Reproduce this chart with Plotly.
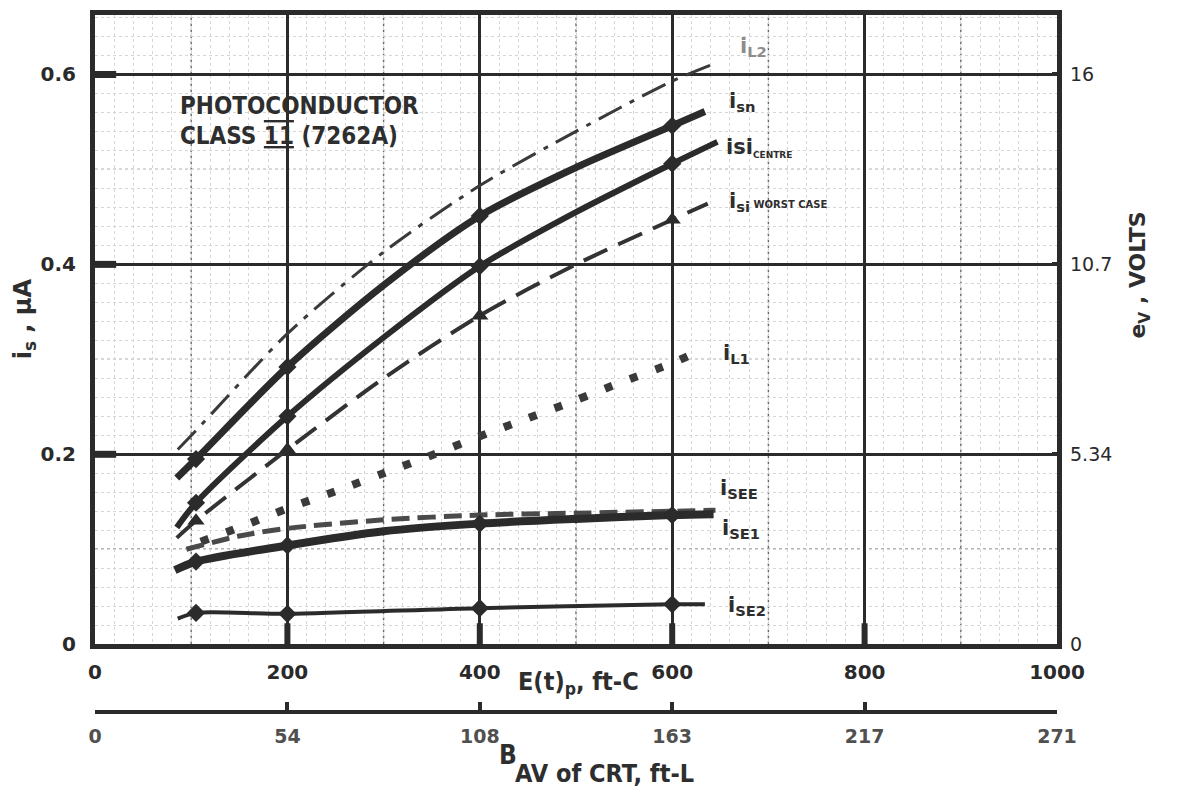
import plotly.graph_objects as go

# ---- data: photoconductor currents vs. illumination E(t)p (ft-C) ----
X_L2 = [86, 105, 200, 300, 400, 500, 600, 648]
Y_L2 = [0.205, 0.225, 0.327, 0.413, 0.483, 0.540, 0.593, 0.613]

X_SN = [85, 105, 200, 300, 400, 500, 600, 634]
Y_SN = [0.175, 0.195, 0.292, 0.378, 0.451, 0.502, 0.546, 0.561]

X_SIC = [85, 105, 200, 300, 400, 500, 600, 647]
Y_SIC = [0.123, 0.149, 0.240, 0.323, 0.398, 0.455, 0.506, 0.529]

X_SIW = [85, 105, 200, 300, 400, 500, 600, 637]
Y_SIW = [0.112, 0.130, 0.205, 0.280, 0.346, 0.400, 0.447, 0.464]

X_L1 = [110, 150, 200, 250, 300, 350, 400, 450, 500, 550, 600, 630]
Y_L1 = [0.108, 0.123, 0.143, 0.161, 0.180, 0.199, 0.219, 0.238, 0.257, 0.277, 0.296, 0.310]

X_SEE = [95, 150, 200, 300, 400, 500, 600, 645]
Y_SEE = [0.100, 0.114, 0.122, 0.131, 0.136, 0.138, 0.140, 0.141]

X_SE1 = [83, 105, 200, 300, 400, 500, 600, 643]
Y_SE1 = [0.078, 0.087, 0.104, 0.119, 0.127, 0.132, 0.136, 0.137]

X_SE2 = [86, 105, 200, 400, 600, 634]
Y_SE2 = [0.027, 0.033, 0.032, 0.038, 0.042, 0.042]

# measured points marked on the curves
MARK_X = [105, 200, 400, 600]

# axis ticks
E_TICKS = [0, 200, 400, 600, 800, 1000]
B_TICKTEXT = ["0", "54", "108", "163", "217", "271"]
I_TICKS = [0, 0.2, 0.4, 0.6]
I_TICKTEXT = ["0", "0.2", "0.4", "0.6"]
V_TICKTEXT = ["0", "5.34", "10.7", "16"]

Y_TOP = 0.6626
INK = "#2b2b2b"
NARROW = "DejaVu Sans Condensed, Liberation Sans Narrow, Arial Narrow, sans-serif"
NUMF = "DejaVu Sans, Arial, sans-serif"


def marks(xs, ys):
    mx = [x for x in xs if x in MARK_X]
    my = [ys[xs.index(x)] for x in mx]
    return mx, my


fig = go.Figure()

curves = [
    (X_L2, Y_L2, dict(color="#3a3a3a", width=3, dash="26px,9px,5px,9px"), None),
    (X_SN, Y_SN, dict(color=INK, width=7), "diamond"),
    (X_SIC, Y_SIC, dict(color=INK, width=6), "diamond"),
    (X_SIW, Y_SIW, dict(color="#333333", width=4, dash="26px,12px"), "triangle-up"),
    (X_L1, Y_L1, dict(color="#3a3a3a", width=8, dash="8px,19px"), None),
    (X_SEE, Y_SEE, dict(color="#4a4a4a", width=5, dash="18px,8px"), None),
    (X_SE1, Y_SE1, dict(color=INK, width=8), "diamond"),
    (X_SE2, Y_SE2, dict(color=INK, width=4), "diamond"),
]

for xs, ys, line, sym in curves:
    fig.add_trace(go.Scatter(x=xs, y=ys, mode="lines", line=dict(shape="spline", smoothing=0.8, **line),
                             hoverinfo="skip", showlegend=False))
    if sym:
        mx, my = marks(xs, ys)
        fig.add_trace(go.Scatter(x=mx, y=my, mode="markers",
                                 marker=dict(symbol=sym, size=15 if sym == "triangle-up" else 14, color=INK),
                                 hoverinfo="skip", showlegend=False))

# carriers for the secondary scales
fig.add_trace(go.Scatter(x=[0, 1000], y=[0, 0], xaxis="x2", yaxis="y", mode="lines",
                         line=dict(width=0), hoverinfo="skip", showlegend=False))
fig.add_trace(go.Scatter(x=[0, 1000], y=[0, 0], xaxis="x", yaxis="y2", mode="lines",
                         line=dict(width=0), hoverinfo="skip", showlegend=False))

shapes = []
# medium grid every 100 ft-C and every 0.1 uA
for v in [100, 300, 500, 700, 900]:
    shapes.append(dict(type="line", xref="x", yref="y", x0=v, x1=v, y0=0, y1=Y_TOP,
                       line=dict(color="#6a6a6a", width=1.4, dash="dot"), layer="below"))
for v in [0.1, 0.3, 0.5]:
    shapes.append(dict(type="line", xref="x", yref="y", x0=0, x1=1000, y0=v, y1=v,
                       line=dict(color="#6a6a6a", width=1.4, dash="dot"), layer="below"))
# heavy stubs on the bottom edge
for v in [200, 400, 600, 800]:
    shapes.append(dict(type="line", xref="x", yref="y", x0=v, x1=v, y0=0, y1=0.022,
                       line=dict(color=INK, width=6)))
# heavy stubs on the left edge
for v in [0.2, 0.4, 0.6]:
    shapes.append(dict(type="line", xref="x", yref="y", x0=0, x1=22, y0=v, y1=v,
                       line=dict(color=INK, width=7)))

annotations = []


def note(text, x, y, size=20, color="#2e2e2e", family=NUMF, xanchor="left", xref="x", yref="y", angle=0, bold=True):
    annotations.append(dict(text=f"<b>{text}</b>" if bold else text, x=x, y=y, xref=xref, yref=yref,
                            xanchor=xanchor, yanchor="middle", showarrow=False, textangle=angle,
                            font=dict(family=family, size=size, color=color)))


# title block
note("PHOTOCONDUCTOR", 86, 0.567, size=24, family=NARROW)
note("CLASS <span style='text-decoration:underline overline'>11</span> (7262A)", 86, 0.535, size=24, family=NARROW)

# curve labels
note("i<sub>L2</sub>", 668, 0.629, size=21, color="#8c8c8c")
note("i<sub>sn</sub>", 657, 0.571, size=21)
note("isi<sub><span style='font-size:9px'>CENTRE</span></sub>", 654, 0.523, size=21)
note("i<sub>si</sub><span style='font-size:10px'> WORST CASE</span>", 657, 0.466, size=21)
note("i<sub>L1</sub>", 651, 0.306, size=21)
note("i<sub>SEE</sub>", 648, 0.163, size=21)
note("i<sub>SE1</sub>", 650, 0.121, size=21)
note("i<sub>SE2</sub>", 656, 0.040, size=21)

# axis titles
note("E(t)<sub>p</sub>, ft-C", 438, 0.126, size=25, family=NARROW, yref="paper")
note("B", 418, 0.031, size=26, family=NARROW, yref="paper")
note("AV of CRT, ft-L", 434, 0.007, size=25, family=NARROW, yref="paper")
note("i<sub>s</sub> , μA", -0.073, 0.343, size=24, xanchor="center", xref="paper", angle=-90)
note("e<sub>V</sub> , VOLTS", 1.086, 0.389, size=22, xanchor="center", xref="paper", angle=-90)

fig.update_layout(
    width=1178, height=801,
    margin=dict(l=95, r=121, t=10, b=20),
    paper_bgcolor="white", plot_bgcolor="white",
    shapes=shapes, annotations=annotations,
    xaxis=dict(range=[0, 1000], tickvals=E_TICKS, ticks="", showgrid=True,
               gridcolor=INK, gridwidth=2.5, zeroline=False,
               showline=True, mirror=True, linecolor=INK, linewidth=5,
               tickfont=dict(family=NUMF, size=20, color="#2a2a2a", weight="bold"), ticklabelstandoff=6,
               minor=dict(dtick=20, showgrid=True, gridcolor="#d6d6d6", griddash="dot", gridwidth=1)),
    yaxis=dict(range=[0, Y_TOP], domain=[0.1764, 1], tickvals=I_TICKS, ticktext=I_TICKTEXT,
               ticks="", showgrid=True, gridcolor=INK, gridwidth=2.5, zeroline=False,
               showline=True, mirror=True, linecolor=INK, linewidth=5,
               tickfont=dict(family=NUMF, size=20, color="#2a2a2a", weight="bold"), ticklabelstandoff=10,
               minor=dict(dtick=0.02, showgrid=True, gridcolor="#d6d6d6", griddash="dot", gridwidth=1)),
    yaxis2=dict(range=[0, Y_TOP], overlaying="y", side="right", anchor="x",
                tickvals=I_TICKS, ticktext=V_TICKTEXT, showgrid=False, zeroline=False,
                ticks="inside", ticklen=5, tickwidth=4, tickcolor=INK,
                tickfont=dict(family=NUMF, size=19, color="#2a2a2a"), ticklabelstandoff=12),
    xaxis2=dict(range=[0, 1000], overlaying="x", anchor="free", position=0.088, side="bottom",
                tickvals=E_TICKS, ticktext=B_TICKTEXT, showgrid=False, zeroline=False,
                showline=True, linecolor=INK, linewidth=4,
                ticks="inside", ticklen=8, tickwidth=4, tickcolor=INK,
                tickfont=dict(family=NUMF, size=19, color="#505050", weight="bold"), ticklabelstandoff=6),
)

fig.write_html("out.html")
